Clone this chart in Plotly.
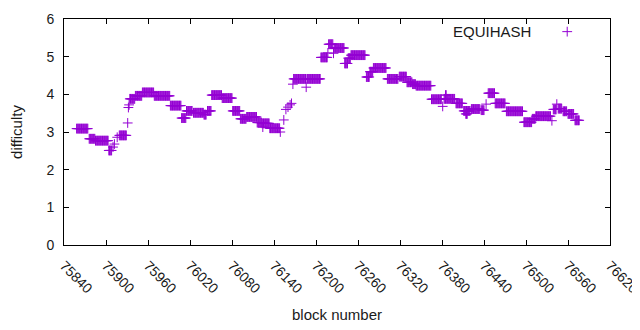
import plotly.graph_objects as go

# Runs of constant difficulty: (first block, last block, difficulty)
run_start = [75858, 75876, 75885, 75904, 75910, 75912, 75916, 75919, 75931, 75932,
             75933, 75934, 75942, 75952, 75969, 75992, 76008, 76015, 76025, 76040,
             76045, 76051, 76066, 76081, 76092, 76101, 76116, 76123, 76124, 76134,
             76149, 76154, 76157, 76160, 76163, 76165, 76167, 76168, 76186, 76187,
             76207, 76217, 76218, 76225, 76226, 76241, 76246, 76250, 76272, 76277,
             76282, 76302, 76319, 76330, 76338, 76343, 76365, 76381, 76383, 76385,
             76400, 76411, 76414, 76422, 76436, 76443, 76446, 76456, 76472, 76497,
             76509, 76514, 76537, 76539, 76544, 76546, 76553, 76560, 76570]
run_end = [75874, 75884, 75903, 75908, 75910, 75912, 75916, 75929, 75931, 75932,
           75933, 75941, 75951, 75968, 75991, 76007, 76014, 76023, 76039, 76043,
           76050, 76065, 76080, 76091, 76100, 76115, 76122, 76133, 76124, 76148,
           76149, 76154, 76157, 76160, 76163, 76165, 76167, 76185, 76186, 76206,
           76216, 76217, 76224, 76225, 76240, 76245, 76249, 76270, 76276, 76281,
           76300, 76317, 76329, 76337, 76342, 76364, 76379, 76381, 76398, 76386,
           76409, 76420, 76416, 76434, 76440, 76443, 76455, 76470, 76495, 76508,
           76513, 76535, 76537, 76543, 76544, 76551, 76558, 76568, 76576]
run_value = [3.09, 2.82, 2.77, 2.51, 2.60, 2.68, 2.86, 2.91, 3.24, 3.65,
             3.72, 3.88, 3.96, 4.05, 3.96, 3.70, 3.37, 3.56, 3.51, 3.46,
             3.56, 3.98, 3.90, 3.56, 3.35, 3.40, 3.25, 3.23, 3.13, 3.10,
             3.00, 3.32, 3.60, 3.66, 3.72, 3.76, 4.27, 4.41, 4.19, 4.41,
             4.98, 5.10, 5.33, 5.09, 5.23, 4.82, 4.96, 5.04, 4.46, 4.60,
             4.70, 4.41, 4.47, 4.32, 4.27, 4.23, 3.87, 3.68, 3.88, 3.98,
             3.76, 3.56, 3.48, 3.61, 3.58, 3.74, 4.03, 3.76, 3.55, 3.26,
             3.35, 3.42, 3.30, 3.60, 3.74, 3.62, 3.55, 3.48, 3.31]

x_ticks = list(range(75840, 76621, 60))
y_ticks = [0, 1, 2, 3, 4, 5, 6]

blocks, diffs = [], []
for s, e, v in zip(run_start, run_end, run_value):
    for b in range(s, e + 1):
        blocks.append(b)
        diffs.append(v)

COLOR = "#9400D3"
FONT = "Liberation Sans"
TXT = "#1a1a1a"

fig = go.Figure()
fig.add_trace(go.Scatter(
    x=blocks, y=diffs, mode="markers", name=" ",
    marker=dict(symbol="cross-thin", size=7, color=COLOR,
                line=dict(width=1, color=COLOR)),
    showlegend=True,
))

axis_common = dict(
    showline=True, linecolor="black", linewidth=1, mirror="ticks",
    ticks="inside", ticklen=5, tickcolor="black", showgrid=False,
    zeroline=False, automargin=False, ticklabeloverflow="allow",
    tickfont=dict(family=FONT, size=14, color=TXT),
)
fig.update_xaxes(range=[75840, 76620], tickvals=x_ticks,
                 ticktext=[str(t) for t in x_ticks], tickangle=45,
                 title=dict(text="block number", font=dict(family=FONT, size=15, color=TXT), standoff=13),
                 ticklabelstandoff=6,
                 **axis_common)
fig.update_yaxes(range=[0, 6], tickvals=y_ticks,
                 title=dict(text="difficulty", font=dict(family=FONT, size=15, color=TXT), standoff=20),
                 ticklabelstandoff=6,
                 **axis_common)

fig.add_annotation(text="EQUIHASH", xref="paper", yref="paper", x=0.8585, y=0.943,
                   xanchor="right", yanchor="middle", showarrow=False,
                   font=dict(family=FONT, size=15, color=TXT))

# the page body has an 8px default margin, so margins are offset by 8px
fig.update_layout(
    width=640, height=330,
    margin=dict(l=56, r=38, t=11, b=93, pad=0, autoexpand=False),
    paper_bgcolor="white", plot_bgcolor="white",
    font=dict(family=FONT, size=15, color=TXT),
    legend=dict(x=0.885, y=0.943, xanchor="left", yanchor="middle",
                bgcolor="rgba(0,0,0,0)", borderwidth=0, itemwidth=30),
)

fig.write_html("out.html")
